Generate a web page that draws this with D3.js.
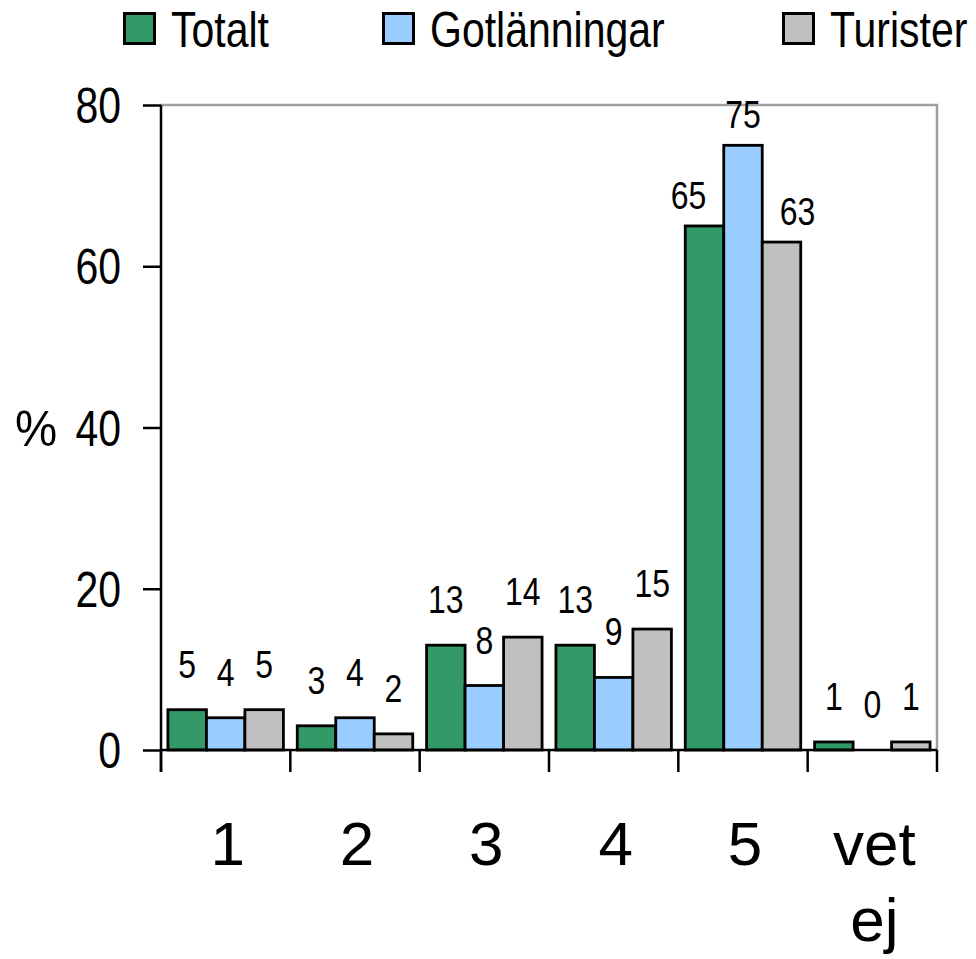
<!DOCTYPE html>
<html>
<head>
<meta charset="utf-8">
<script src="https://cdn.jsdelivr.net/npm/d3@7"></script>
<style>
  body { margin: 0; background: #fff; }
  text { font-family: "Liberation Sans", Arial, sans-serif; }
</style>
</head>
<body>
<div id="chart"></div>
<script>
// data
var categories = ["1", "2", "3", "4", "5", "vet ej"];
var seriesNames = ["Totalt", "Gotlänningar", "Turister"];
var totalt = [5, 3, 13, 13, 65, 1];
var gotlanningar = [4, 4, 8, 9, 75, 0];
var turister = [5, 2, 14, 15, 63, 1];
var yTicks = [0, 20, 40, 60, 80];
var colors = ["#339966", "#99ccff", "#c0c0c0"];

var seriesValues = [totalt, gotlanningar, turister];

var width = 976, height = 959;
var margin = { top: 105, right: 39, bottom: 209, left: 161 };
var narrow = 0.82; // no Arial Narrow here, so squeeze Liberation Sans

var svg = d3.select("#chart").append("svg")
  .attr("width", width)
  .attr("height", height);

// text in a narrow face, placed at (x, y)
function narrowText(sel, x, y, sx) {
  var k = sx || narrow;
  return sel.attr("transform", function(d, i) {
      var xx = typeof x === "function" ? x(d, i) : x;
      var yy = typeof y === "function" ? y(d, i) : y;
      return "translate(" + xx + "," + yy + ") scale(" + k + ",1)";
    })
    .attr("fill", "#000");
}

var x0 = d3.scaleBand()
  .domain(categories)
  .range([margin.left, width - margin.right])
  .padding(0);

var x1 = d3.scaleBand()
  .domain(seriesNames)
  .range([0, x0.bandwidth()])
  .paddingInner(0)
  .paddingOuter(0.18);

var y = d3.scaleLinear()
  .domain([0, 80])
  .range([height - margin.bottom, margin.top]);

var y0 = y(0);

// plot frame (grey top / right)
svg.append("path")
  .attr("d", "M" + margin.left + "," + y(80) + "H" + (width - margin.right) + "V" + y0)
  .attr("fill", "none")
  .attr("stroke", "#a0a0a0")
  .attr("stroke-width", 2.5);

// bars
var rows = [];
categories.forEach(function(c, ci) {
  seriesNames.forEach(function(s, si) {
    rows.push({ cat: c, ci: ci, series: s, si: si, value: seriesValues[si][ci] });
  });
});

svg.append("g").selectAll("rect")
  .data(rows.filter(function(d) { return d.value > 0; }))
  .enter().append("rect")
  .attr("x", function(d) { return x0(d.cat) + x1(d.series); })
  .attr("y", function(d) { return y(d.value); })
  .attr("width", x1.bandwidth())
  .attr("height", function(d) { return y0 - y(d.value); })
  .attr("fill", function(d) { return colors[d.si]; })
  .attr("stroke", "#000")
  .attr("stroke-width", 2.8);

// value labels
narrowText(svg.append("g").selectAll("text")
  .data(rows)
  .enter().append("text")
  .attr("text-anchor", "middle")
  .attr("font-size", 39)
  .text(function(d) { return d.value; }),
  function(d) {
    var cx = x0(d.cat) + x1(d.series) + x1.bandwidth() / 2;
    // tall bars: outer labels pushed sideways like the original
    if (d.value > 50) cx += (d.si - 1) * 16;
    return cx;
  },
  function(d) { return y(d.value) - (d.value > 50 ? 17 : 32); });

// y axis
var yAxis = d3.axisLeft(y)
  .tickValues(yTicks)
  .tickSize(18)
  .tickFormat("");

var gy = svg.append("g")
  .attr("transform", "translate(" + margin.left + ",0)")
  .call(yAxis);
gy.select(".domain").remove();
gy.selectAll(".tick line").attr("stroke", "#000").attr("stroke-width", 2.5);

narrowText(svg.append("g").selectAll("text")
  .data(yTicks)
  .enter().append("text")
  .attr("text-anchor", "end")
  .attr("font-size", 50)
  .attr("dy", "0.36em")
  .text(function(d) { return d; }),
  margin.left - 40,
  function(d) { return y(d); });

svg.append("line")
  .attr("x1", margin.left).attr("x2", margin.left)
  .attr("y1", y(80)).attr("y2", y0 + 22)
  .attr("stroke", "#000").attr("stroke-width", 2.5);

// x axis
svg.append("line")
  .attr("x1", margin.left).attr("x2", width - margin.right)
  .attr("y1", y0).attr("y2", y0)
  .attr("stroke", "#000").attr("stroke-width", 2.5);

var catEdges = categories.map(function(c) { return x0(c); }).concat([x0.range()[1]]);
svg.append("g").selectAll("line")
  .data(catEdges)
  .enter().append("line")
  .attr("x1", function(d) { return d; })
  .attr("x2", function(d) { return d; })
  .attr("y1", y0)
  .attr("y2", y0 + 22)
  .attr("stroke", "#000")
  .attr("stroke-width", 2.5);

var catLabels = svg.append("g").selectAll("text")
  .data(categories)
  .enter().append("text")
  .attr("x", function(d) { return x0(d) + x0.bandwidth() / 2 + 2; })
  .attr("y", 865)
  .attr("text-anchor", "middle")
  .attr("font-size", 62)
  .attr("fill", "#000");

catLabels.each(function(d) {
  var words = d.split(" ");
  var t = d3.select(this);
  words.forEach(function(w, i) {
    t.append("tspan")
      .attr("x", t.attr("x"))
      .attr("dy", i === 0 ? 0 : 76)
      .text(w);
  });
});

// y title
narrowText(svg.append("text")
  .attr("dy", "0.36em")
  .attr("text-anchor", "middle")
  .attr("font-size", 50)
  .text("%"), 36, y(40), 0.95);

// legend
var legendX = [123, 382, 782];
var legend = svg.append("g").selectAll("g")
  .data(seriesNames)
  .enter().append("g")
  .attr("transform", function(d, i) { return "translate(" + legendX[i] + ",0)"; });

legend.append("rect")
  .attr("x", 1.5).attr("y", 13.5)
  .attr("width", 30).attr("height", 30)
  .attr("fill", function(d, i) { return colors[i]; })
  .attr("stroke", "#000")
  .attr("stroke-width", 3);

narrowText(legend.append("text")
  .attr("font-size", 50)
  .text(function(d) { return d; }), 48, 47);
</script>
</body>
</html>
